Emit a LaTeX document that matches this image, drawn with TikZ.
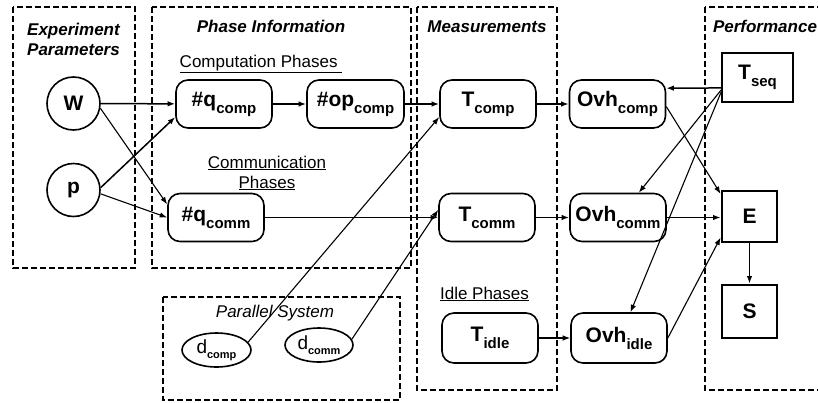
\documentclass[tikz,border=0pt]{standalone}
\usepackage{fontspec}
\setmainfont{Liberation Sans}
\usetikzlibrary{arrows.meta,shapes.geometric}
\newcommand{\lowsub}[1]{\raisebox{-7pt}{\fontsize{15}{15}\selectfont #1}}
\newcommand{\elsub}[1]{\raisebox{-5pt}{\fontsize{11}{11}\selectfont\bfseries #1}}
\begin{document}
\begin{tikzpicture}[x=1pt,y=-1pt,
  grp/.style={draw,line width=2.2pt,dash pattern=on 6pt off 3pt},
  rbox/.style={draw,line width=1.6pt,rounded corners=12pt,minimum width=96pt,minimum height=48pt,inner sep=0pt,font=\fontsize{21}{21}\selectfont\bfseries},
  circ/.style={draw,circle,line width=1.6pt,minimum size=53pt,inner sep=0pt,font=\fontsize{21}{21}\selectfont\bfseries},
  ell/.style={draw,ellipse,line width=1.6pt,minimum width=69pt,minimum height=34pt,inner sep=0pt,font=\fontsize{19}{19}\selectfont},
  sqbox/.style={draw,rectangle,inner sep=0pt,font=\fontsize{21}{21}\selectfont\bfseries},
  ttl/.style={anchor=base,inner sep=0pt,font=\fontsize{17}{17}\selectfont\bfseries\itshape},
  sub/.style={anchor=base,inner sep=0pt,font=\fontsize{17}{17}\selectfont},
  conn/.style={line width=1.5pt,-{Latex[length=7.5pt,width=5.5pt]}},
  thin/.style={line width=1.1pt,-{Latex[length=7.5pt,width=5.5pt]}}
]
\useasboundingbox (0,0) rectangle (818,402);
\clip (0,0) rectangle (818,402);
\fill[white] (0,0) rectangle (818,402);

% group boxes
\draw[grp] (13,7) rectangle (135,268);
\draw[grp] (152,7) rectangle (411,268);
\draw[grp] (417,7) rectangle (557,390);
\draw[grp] (705,7) rectangle (840,390);
\draw[grp] (163,297) rectangle (400,400);

% titles
\node[ttl] (t1a) at (73.5,35) {Experiment};
\node[ttl] (t1b) at (73.5,55) {Parameters};
\node[ttl] (t2) at (271,32) {Phase Information};
\node[ttl] (t3) at (487,32) {Measurements};
\node[ttl] (t4) at (765,32) {Performance};
\node[sub,font=\fontsize{17}{17}\selectfont\itshape] (t5) at (275,317) {Parallel System};
\node[sub] (s1) at (261,67) {\underline{Computation Phases\ }};
\node[sub] (s2a) at (267,168) {\underline{Communication}};
\node[sub] (s2b) at (267,188) {\underline{Phases}};
\node[sub] (s3) at (484.5,299) {\underline{Idle Phases}};

% nodes
\node[circ] (W) at (73.5,103.5) {W};
\node[circ] (p) at (73.5,190) {p};
\node[rbox] (qcomp) at (224,104) {\#q\lowsub{comp}};
\node[rbox,minimum width=97pt] (opcomp) at (355.5,104) {\#op\lowsub{comp}};
\node[rbox] (Tcomp) at (488,104) {T\lowsub{comp}};
\node[rbox] (Ovhcomp) at (617.5,104) {Ovh\lowsub{comp}};
\node[sqbox,line width=1.9pt,minimum width=71pt,minimum height=49pt] (Tseq) at (757.5,77.5) {T\lowsub{seq}};
\node[rbox] (qcomm) at (216,217.5) {\#q\lowsub{comm}};
\node[rbox] (Tcomm) at (487,217.5) {T\lowsub{comm}};
\node[rbox] (Ovhcomm) at (618,217.5) {Ovh\lowsub{comm}};
\node[sqbox,line width=2.8pt,minimum width=55pt,minimum height=51pt] (E) at (749.5,216.5) {E};
\node[sqbox,line width=2.8pt,minimum width=55pt,minimum height=53pt] (S) at (749.5,311.5) {S};
\node[rbox,minimum height=50pt] (Tidle) at (490,338) {T\lowsub{idle}};
\node[rbox,minimum height=50pt] (Ovhidle) at (619,338) {Ovh\lowsub{idle}};
\node[ell] (dcomp) at (216.5,350) {d\elsub{comp}};
\node[ell,minimum width=68pt] (dcomm) at (319,345) {d\elsub{comm}};

% connectors
\draw[conn] (W) -- (qcomp);
\draw[thin] (W.-10) -- (qcomm.165);
\draw[conn] (p.5) -- (qcomp.195);
\draw[thin] (p.-8) -- (qcomm.180);
\draw[conn] (qcomp) -- (opcomp);
\draw[conn] (opcomp) -- (Tcomp);
\draw[conn] (Tcomp) -- (Ovhcomp);
\draw[thin] (dcomp.14) -- (Tcomp.195);
\draw[conn] (qcomm) -- (Tcomm);
\draw[thin] (dcomm.10) -- (Tcomm.171);
\draw[conn] (Tcomm) -- (Ovhcomm);
\draw[thin] (Tidle) -- (Ovhidle);
\draw[conn] (Tseq.196.5) -- (Ovhcomp.18.4);
\draw[thin] (Tseq.199.4) -- (Ovhcomm.50.8);
\draw[thin] (Tseq.202.2) -- (Ovhidle.66);
\draw[thin] (Ovhcomp.-3.5) -- (E.142);
\draw[conn] (Ovhcomm.east) -- (Ovhcomm.east -| E.west);
\draw[thin] (Ovhidle.east) -- (E.216.7);
\draw[conn] (E) -- (S);
\end{tikzpicture}
\end{document}
